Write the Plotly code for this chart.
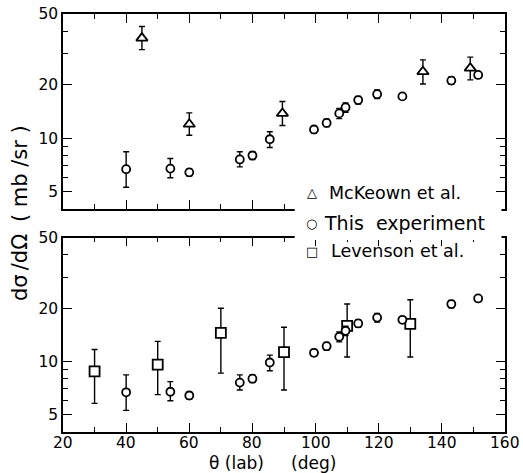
import math
import plotly.graph_objects as go

# Differential cross section data, dσ/dΩ in mb/sr vs lab angle (deg)
this_theta = [40, 54, 60, 76, 80, 85.5, 99.5, 103.5, 107.5, 109.5, 113.5, 119.5, 127.5, 143, 151.5]
this_xs = [6.7, 6.75, 6.43, 7.6, 8.0, 9.87, 11.2, 12.2, 13.8, 14.9, 16.4, 17.7, 17.2, 21.1, 22.7]
this_err_plus = [1.7, 0.95, 0.3, 0.8, 0.4, 1.0, 0.5, 0.6, 0.9, 0.9, 0.8, 1.0, 0.2, 1.0, 0.8]
this_err_minus = [1.4, 0.75, 0.3, 0.7, 0.4, 1.0, 0.5, 0.6, 0.9, 0.9, 0.8, 1.0, 0.2, 1.0, 0.8]

mck_theta = [45, 60, 89.5, 134, 149]
mck_xs = [36.6, 12.0, 13.8, 23.7, 24.8]
mck_err_plus = [5.9, 1.9, 2.3, 3.9, 3.8]
mck_err_minus = [5.1, 1.6, 2.0, 3.5, 3.5]

lev_theta = [30, 50, 70, 90, 110, 130]
lev_xs = [8.8, 9.6, 14.5, 11.3, 15.9, 16.3]
lev_err_plus = [2.9, 3.4, 5.5, 4.3, 5.2, 6.0]
lev_err_minus = [3.0, 3.1, 5.9, 4.4, 5.3, 5.7]

x_ticks = [20, 40, 60, 80, 100, 120, 140, 160]
y_ticks = [5, 10, 20, 50]
y_minor = [6, 7, 8, 9, 30, 40]

legend_labels = ["McKeown et al.", "This experiment", "Levenson et al."]
legend_glyphs = ["\u25b3", "\u25cb", "\u25a1"]

FONT = "DejaVu Sans"
W, H = 523, 473
ML, MR, MT, MB = 63, 17.5, 14, 41
PW = W - ML - MR
PH = H - MT - MB


def px_x(px):
    return (px - ML) / PW


def px_y(py):
    return (H - MB - py) / PH


def err(plus, minus):
    return dict(type="data", symmetric=False, array=plus, arrayminus=minus,
                color="black", thickness=1.4, width=3)


def marker(symbol, size):
    return dict(symbol=symbol, size=size, color="white",
                line=dict(color="black", width=1.8))


fig = go.Figure()

# upper panel: McKeown et al. + this experiment
fig.add_trace(go.Scatter(x=mck_theta, y=mck_xs, mode="markers", name=legend_labels[0],
                         marker=marker("triangle-up", 10),
                         error_y=err(mck_err_plus, mck_err_minus),
                         xaxis="x2", yaxis="y2", showlegend=False))
fig.add_trace(go.Scatter(x=this_theta, y=this_xs, mode="markers", name=legend_labels[1],
                         marker=marker("circle", 8),
                         error_y=err(this_err_plus, this_err_minus),
                         xaxis="x2", yaxis="y2", showlegend=False))

# lower panel: Levenson et al. + this experiment
fig.add_trace(go.Scatter(x=lev_theta, y=lev_xs, mode="markers", name=legend_labels[2],
                         marker=marker("square", 10),
                         error_y=err(lev_err_plus, lev_err_minus),
                         xaxis="x", yaxis="y", showlegend=False))
fig.add_trace(go.Scatter(x=this_theta, y=this_xs, mode="markers", name=legend_labels[1],
                         marker=marker("circle", 8),
                         error_y=err(this_err_plus, this_err_minus),
                         xaxis="x", yaxis="y", showlegend=False))

axis_common = dict(showline=True, linecolor="black", linewidth=1.5, mirror="ticks",
                   ticks="inside", ticklen=9, tickwidth=1.4, tickcolor="black",
                   showgrid=False, zeroline=False, automargin=False,
                   tickfont=dict(family=FONT, size=15.5, color="black"))

# x tick labels are placed just under the frame below (see annotations)
xaxis_common = dict(axis_common, range=[20, 160], autorange=False, tickvals=x_ticks,
                    showticklabels=False,
                    minor=dict(tickmode="linear", tick0=10, dtick=10, ticks="inside",
                               ticklen=5, tickwidth=1.2, tickcolor="black"))

yaxis_common = dict(axis_common, type="log", range=[math.log10(4), math.log10(50)],
                    autorange=False,
                    tickvals=y_ticks, ticktext=[str(v) for v in y_ticks],
                    minor=dict(tickvals=y_minor, ticks="inside", ticklen=5,
                               tickwidth=1.2, tickcolor="black"))

top_lo = px_y(209)
bot_hi = px_y(237.7)

fig.update_layout(
    width=W, height=H,
    margin=dict(l=ML, r=MR, t=MT, b=MB, autoexpand=False),
    paper_bgcolor="white", plot_bgcolor="white",
    showlegend=False,
    xaxis=dict(xaxis_common, anchor="y", domain=[0, 1]),
    yaxis=dict(yaxis_common, anchor="x", domain=[0, bot_hi]),
    xaxis2=dict(xaxis_common, anchor="y2", domain=[0, 1]),
    yaxis2=dict(yaxis_common, anchor="x2", domain=[top_lo, 1]),
)

# angle labels along the bottom axis
for v in x_ticks:
    fig.add_annotation(x=v, xref="x", y=px_y(442.5), yref="paper", text=str(v),
                       showarrow=False, xanchor="center", yanchor="middle",
                       borderpad=0,
                       font=dict(family=FONT, size=15.5, color="black"))

# white panel behind the key, hiding the frame between the two panels
fig.add_shape(type="rect", xref="paper", yref="paper",
              x0=px_x(295), x1=px_x(502), y0=px_y(240), y1=px_y(199),
              fillcolor="white", line=dict(width=0), layer="above")

# key
glyph_y = [193, 223, 251]
text_x = [327, 322, 329]
text_size = [17.5, 19, 17.5]
label_text = ["McKeown\u00a0et\u00a0al.", "This\u00a0\u00a0experiment", "Levenson\u00a0et\u00a0al."]
for glyph, label, gy, tx, ts in zip(legend_glyphs, label_text, glyph_y, text_x, text_size):
    fig.add_annotation(x=px_x(312), y=px_y(gy), xref="paper", yref="paper",
                       text=glyph, showarrow=False, xanchor="center", yanchor="middle",
                       font=dict(family=FONT, size=13, color="black"))
    fig.add_annotation(x=px_x(tx), y=px_y(gy), xref="paper", yref="paper",
                       text=label, showarrow=False,
                       xanchor="left", yanchor="middle",
                       font=dict(family=FONT, size=ts, color="black"))

# axis titles
fig.add_annotation(x=px_x(273), y=px_y(463), xref="paper", yref="paper",
                   text="\u03b8\u00a0(lab)\u00a0\u00a0\u00a0\u00a0\u00a0(deg)",
                   showarrow=False, xanchor="center", yanchor="middle",
                   borderpad=0,
                   font=dict(family=FONT, size=17, color="black"))
fig.add_annotation(x=px_x(20), y=px_y(174), xref="paper", yref="paper",
                   text="(\u00a0mb\u00a0/sr\u00a0)",
                   textangle=-90, showarrow=False, xanchor="center", yanchor="middle",
                   font=dict(family=FONT, size=21, color="black"))
fig.add_annotation(x=px_x(20), y=px_y(268), xref="paper", yref="paper",
                   text="d\u03c3\u2009/d\u03a9",
                   textangle=-90, showarrow=False, xanchor="center", yanchor="middle",
                   font=dict(family=FONT, size=21, color="black"))

fig.write_html("out.html")
